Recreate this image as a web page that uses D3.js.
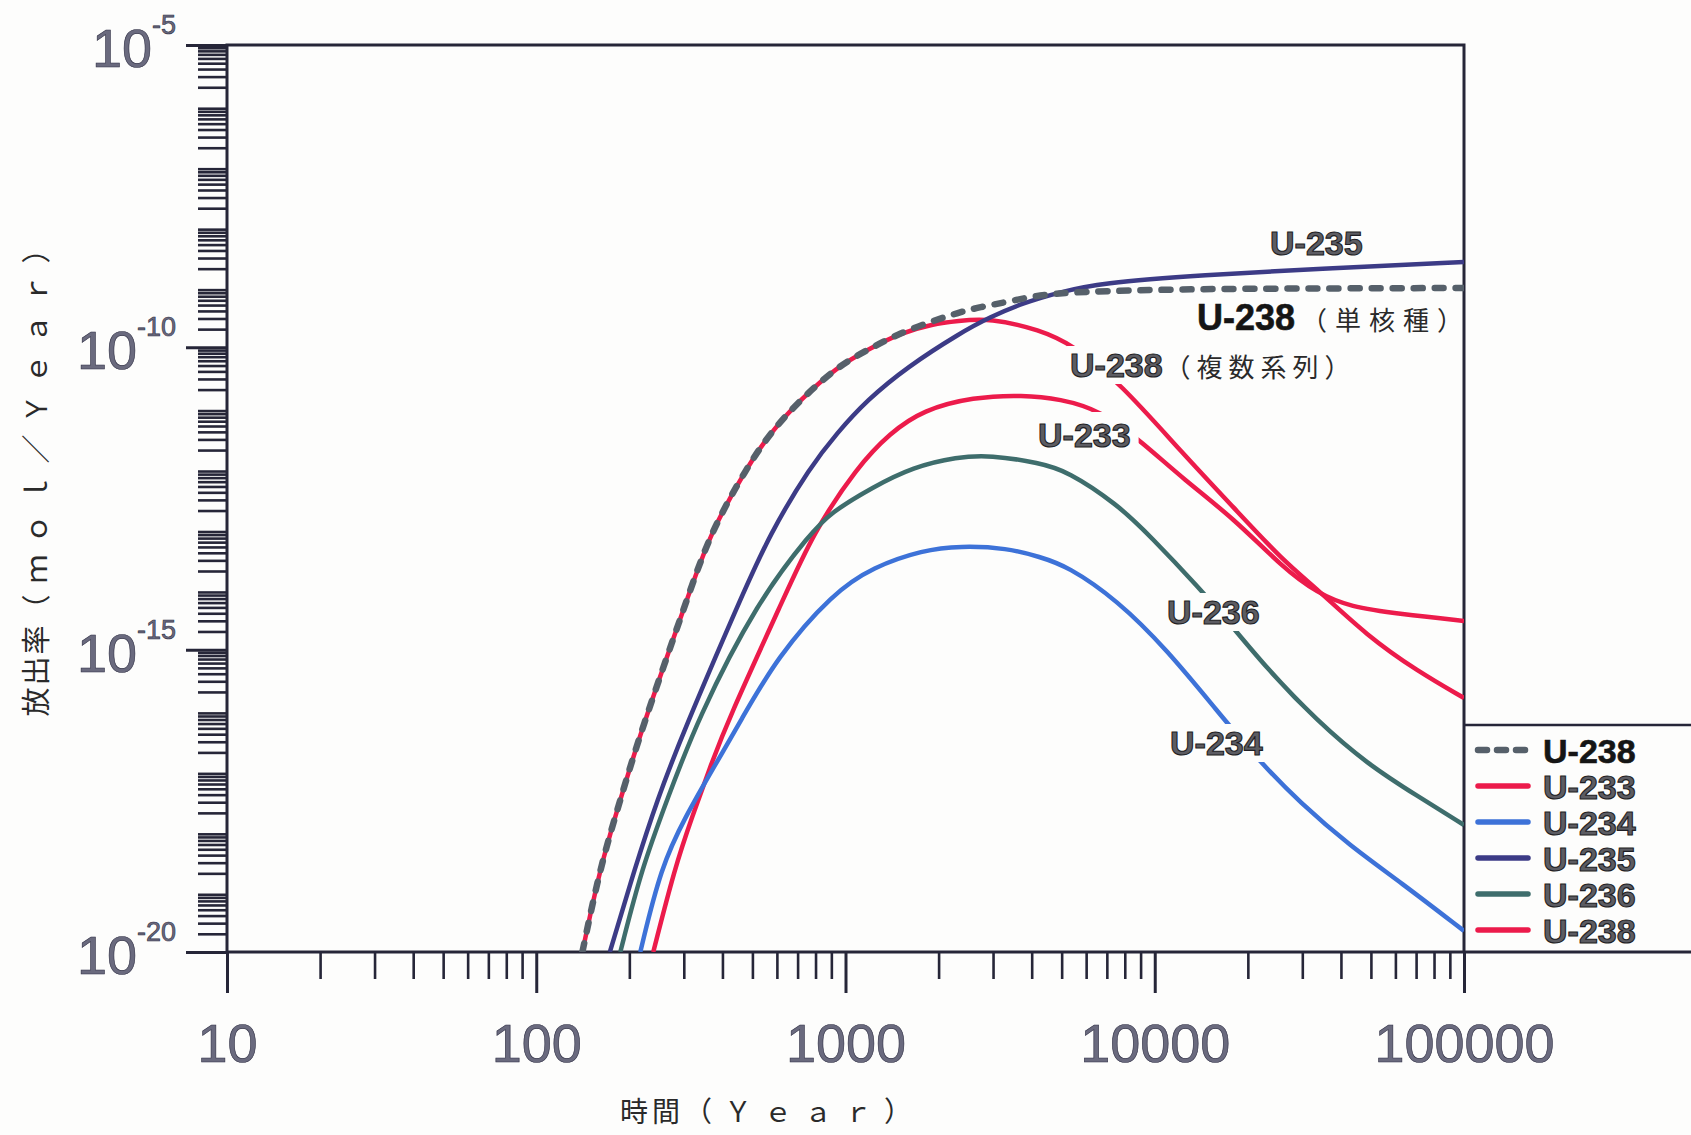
<!DOCTYPE html>
<html>
<head>
<meta charset="utf-8">
<script src="https://cdn.jsdelivr.net/npm/d3@7"></script>
<style>
  body { margin: 0; background: #fdfdfc; }
  svg { display: block; }
</style>
</head>
<body>
<svg id="chart" width="1691" height="1135"></svg>
<script>
// release rate (mol/Year) against time (Year)
const u238Single = [[141,1e-20],[161,2.55e-19],[187,3.27e-18],[217,4.19e-17],[307,6.64e-15],[365,8.51e-14],[481,1.05e-12],[571,3.84e-12],[713,1.35e-11],[939,4.73e-11],[1175,9.04e-11],[1502,1.73e-10],[1920,2.73e-10],[2296,3.70e-10],[2725,4.65e-10],[3332,5.62e-10],[4355,7.62e-10],[6660,8.55e-10],[14000,9.23e-10],[29500,9.40e-10],[100000,9.58e-10]];
const u238Chain = [[141,1e-20],[161,2.55e-19],[187,3.27e-18],[217,4.19e-17],[307,6.64e-15],[365,8.51e-14],[481,1.05e-12],[571,3.84e-12],[713,1.35e-11],[939,4.73e-11],[1175,9.04e-11],[1502,1.72e-10],[1920,2.43e-10],[2296,2.73e-10],[2936,3.05e-10],[4260,1.94e-10],[5447,1.09e-10],[7729,2.57e-11],[12360,1.72e-12],[17930,2.29e-13],[26030,2.93e-14],[33520,1.01e-14],[48630,1.69e-15],[70560,4.45e-16],[100000,1.59e-16]];
const u233 = [[239,1e-20],[281,2.55e-19],[319,1.71e-18],[365,1.15e-17],[417,6.87e-17],[628,6.64e-15],[786,8.51e-14],[1090,1.05e-12],[1394,3.84e-12],[1782,9.20e-12],[2586,1.51e-11],[3753,1.63e-11],[4943,1.40e-11],[6660,9.20e-12],[9170,2.62e-12],[12360,6.65e-13],[17930,1.51e-13],[26030,2.24e-14],[33520,8.67e-15],[42850,5.08e-15],[62190,3.89e-15],[100000,2.99e-15]];
const u234 = [[217,1e-20],[253,2.55e-19],[303,1.71e-18],[379,1.24e-17],[456,6.37e-17],[601,7.57e-16],[912,8.67e-15],[1228,2.33e-14],[1782,4.46e-14],[2349,5.19e-14],[3332,4.81e-14],[4260,3.41e-14],[5209,2.42e-14],[7556,6.64e-15],[10970,9.89e-16],[15920,9.68e-17],[21600,1.50e-17],[29530,2.92e-18],[42850,5.68e-19],[62190,1.44e-19],[100000,2.23e-20]];
const u235 = [[173,1e-20],[209,2.55e-19],[246,3.27e-18],[298,4.19e-17],[456,6.64e-15],[571,8.51e-14],[769,1.05e-12],[939,3.84e-12],[1175,1.35e-11],[1582,4.73e-11],[2349,1.73e-10],[2936,3.18e-10],[3753,5.41e-10],[4943,8.22e-10],[6660,1.16e-9],[14000,1.57e-9],[37800,2.05e-9],[100000,2.58e-9]];
const u236 = [[187,1e-20],[220,2.55e-19],[265,3.27e-18],[331,6.87e-17],[522,6.64e-15],[774,8.51e-14],[892,1.82e-13],[1228,4.90e-13],[1654,1.05e-12],[2296,1.54e-12],[2936,1.66e-12],[4260,1.22e-12],[5209,9.02e-13],[7556,2.56e-13],[9663,7.59e-14],[14020,1.01e-14],[16890,3.34e-15],[23090,4.80e-16],[33520,6.62e-17],[48630,1.29e-17],[70560,3.81e-18],[100000,1.26e-18]];

const legendNames = ["U-238","U-233","U-234","U-235","U-236","U-238"];
const xTickValues = [10,100,1000,10000,100000];
const xTickLabels = ["10","100","1000","10000","100000"];
const yTickExponents = [-20,-15,-10,-5];

const RED = "#ec1b4b", BLUE = "#3d72d8", NAVY = "#3c3b86", TEAL = "#3e6d6c", DASH = "#56606a";
const AXIS = "#262638";
const NUMFILL = "#6a6a7e", NUMEDGE = "#2d2d42";

var svg = d3.select("#chart");
svg.append("rect").attr("width",1691).attr("height",1135).attr("fill","#fdfdfc");

var x = d3.scaleLog().domain([10,100000]).range([227,1464]);
var y = d3.scaleLog().domain([1e-20,1e-5]).range([952,45]);

svg.append("clipPath").attr("id","plotclip")
   .append("rect").attr("x",227).attr("y",45).attr("width",1237).attr("height",907);

// minor ticks 2..9 in every decade
var xMinor = [], yMinor = [];
for(var e = 1; e < 5; e++){
	for(var k = 2; k < 10; k++) xMinor.push(k*Math.pow(10,e));
}
for(var e = -20; e < -5; e++){
	for(var k = 2; k < 10; k++) yMinor.push(k*Math.pow(10,e));
}

function styleTicks(g, w){
	g.select(".domain").remove();
	g.selectAll(".tick line").attr("stroke",AXIS).attr("stroke-width",w);
}

svg.append("g").attr("transform","translate(227,0)")
   .call(d3.axisLeft(y).tickValues(yMinor).tickSize(29).tickFormat("").tickSizeOuter(0))
   .call(function(g){ styleTicks(g,2.6); });
svg.append("g").attr("transform","translate(227,0)")
   .call(d3.axisLeft(y).tickValues(yTickExponents.map(function(e){ return Math.pow(10,e); })).tickSize(41).tickFormat("").tickSizeOuter(0))
   .call(function(g){ styleTicks(g,3); });

svg.append("g").attr("transform","translate(0,952)")
   .call(d3.axisBottom(x).tickValues(xMinor).tickSize(27).tickFormat("").tickSizeOuter(0))
   .call(function(g){ styleTicks(g,2.6); });
svg.append("g").attr("transform","translate(0,952)")
   .call(d3.axisBottom(x).tickValues(xTickValues).tickSize(41).tickPadding(31)
          .tickFormat(function(d,i){ return xTickLabels[i]; }).tickSizeOuter(0))
   .call(function(g){
		styleTicks(g,3);
		g.attr("font-size",null).attr("font-family",null);
		g.selectAll(".tick text")
		 .style("font-family","'Liberation Sans', Arial, sans-serif")
		 .style("font-size","54px")
		 .attr("fill",NUMFILL).attr("stroke",NUMEDGE).attr("stroke-width",0.6);
   });

// y labels 10^n
yTickExponents.forEach(function(e){
	var t = svg.append("text")
	           .attr("x",176).attr("y",y(Math.pow(10,e))+22)
	           .attr("text-anchor","end")
	           .style("font-family","'Liberation Sans', Arial, sans-serif")
	           .attr("fill",NUMFILL).attr("stroke",NUMEDGE).attr("stroke-width",0.6);
	t.append("tspan").style("font-size","54px").text("10");
	t.append("tspan").style("font-size","27px").attr("dy",-33).text("" + e);
});

// frame and legend box lines
svg.append("rect").attr("x",227).attr("y",45).attr("width",1237).attr("height",907)
   .attr("fill","none").attr("stroke",AXIS).attr("stroke-width",3);
svg.append("line").attr("x1",1464).attr("x2",1691).attr("y1",725).attr("y2",725)
   .attr("stroke",AXIS).attr("stroke-width",2.5);
svg.append("line").attr("x1",1464).attr("x2",1691).attr("y1",952).attr("y2",952)
   .attr("stroke",AXIS).attr("stroke-width",3);

// curves
var line = d3.line()
             .x(function(d){ return x(d[0]); })
             .y(function(d){ return y(d[1]); })
             .curve(d3.curveBasis);

var curves = [
	{data:u238Chain, color:RED},
	{data:u233, color:RED},
	{data:u234, color:BLUE},
	{data:u236, color:TEAL},
	{data:u235, color:NAVY},
	{data:u238Single, color:DASH, dash:"9,12"}
];
var plot = svg.append("g").attr("clip-path","url(#plotclip)");
curves.forEach(function(c){
	var p = plot.append("path")
	            .attr("d",line(c.data))
	            .attr("fill","none")
	            .attr("stroke",c.color)
	            .attr("stroke-width",c.dash ? 6.5 : 4.5);
	if(c.dash) p.attr("stroke-dasharray",c.dash).attr("stroke-linecap","round");
});

// curve labels
function curveLabel(px, py, name, cjk, opts){
	var g = svg.append("g");
	var t = g.append("text").attr("x",px).attr("y",py);
	t.append("tspan")
	 .style("font-family","'Liberation Sans', Arial, sans-serif")
	 .style("font-weight","bold")
	 .style("font-size",(opts.size || 34)+"px")
	 .attr("fill",opts.dark ? "#151515" : "#5c5c62")
	 .attr("stroke",opts.dark ? "#151515" : "#1e1e24")
	 .attr("stroke-width",opts.dark ? 0.6 : 1.1)
	 .text(name);
	if(cjk){
		t.append("tspan")
		 .attr("dx",opts.gap || 2)
		 .style("font-family","'Noto Sans CJK JP', sans-serif")
		 .style("font-size","26px")
		 .style("letter-spacing",(opts.ls || 6)+"px")
		 .attr("fill","#2a2a2a")
		 .text(cjk);
	}
	if(opts.mask){
		var b = t.node().getBBox();
		g.insert("rect","text")
		 .attr("x",b.x - opts.mask[0]).attr("y",b.y + opts.mask[1])
		 .attr("width",b.width + 2*opts.mask[0]).attr("height",b.height - opts.mask[1])
		 .attr("fill","#fdfdfc");
	}
}
curveLabel(1270,255,"U-235",null,{});
curveLabel(1197,330,"U-238","（単核種）",{dark:true,size:36,gap:6,ls:8});
curveLabel(1070,377,"U-238","（複数系列）",{ls:6,mask:[3,0]});
curveLabel(1038,447,"U-233",null,{mask:[8,-4]});
curveLabel(1167,624,"U-236",null,{mask:[4,0]});
curveLabel(1170,755,"U-234",null,{mask:[4,0]});

// legend
var legendStyles = [
	{color:DASH, dash:"9,10"},
	{color:RED}, {color:BLUE}, {color:NAVY}, {color:TEAL}, {color:RED}
];
legendNames.forEach(function(n,i){
	var cy = 750 + i*36;
	var l = svg.append("line").attr("x1",1478).attr("x2",1528).attr("y1",cy).attr("y2",cy)
	           .attr("stroke",legendStyles[i].color).attr("stroke-width",5.5)
	           .attr("stroke-linecap","round");
	if(legendStyles[i].dash) l.attr("stroke-dasharray",legendStyles[i].dash).attr("stroke-width",6.5);
	svg.append("text").attr("x",1543).attr("y",cy+13)
	   .style("font-family","'Liberation Sans', Arial, sans-serif")
	   .style("font-weight","bold").style("font-size","34px")
	   .attr("fill",i == 0 ? "#151515" : "#5c5c62")
	   .attr("stroke",i == 0 ? "#151515" : "#1e1e24")
	   .attr("stroke-width",i == 0 ? 0.6 : 1.1)
	   .text(n);
});

// axis titles
var yt = svg.append("text")
            .attr("transform","translate(47,470) rotate(-90)")
            .attr("text-anchor","middle")
            .style("font-family","'Noto Sans CJK JP', sans-serif")
            .style("font-size","29px")
            .attr("fill","#2a2a2a");
yt.append("tspan").style("letter-spacing","2px").text("放出率");
yt.append("tspan").style("letter-spacing","11px").text("（ｍｏｌ／Ｙｅａｒ）");

var xt = svg.append("text")
            .attr("x",772).attr("y",1122)
            .attr("text-anchor","middle")
            .style("font-family","'Noto Sans CJK JP', sans-serif")
            .style("font-size","28px")
            .attr("fill","#2a2a2a");
xt.append("tspan").style("letter-spacing","4px").text("時間");
xt.append("tspan").style("letter-spacing","12px").text("（Ｙｅａｒ）");
</script>
</body>
</html>
